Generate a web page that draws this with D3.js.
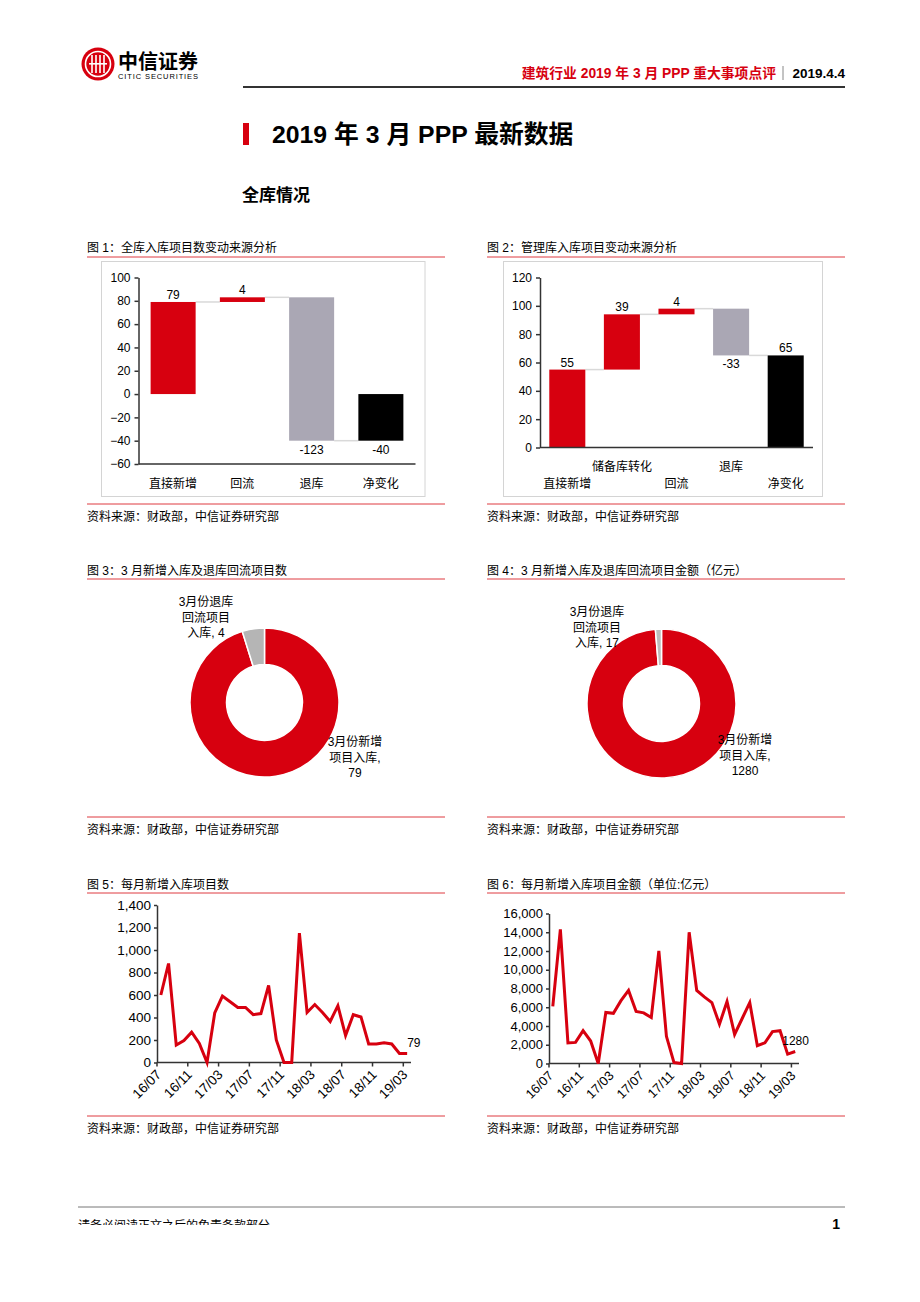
<!DOCTYPE html>
<meta charset="utf-8">
<style>
body { margin: 0; background: #fff; }
svg text { font-family: "Liberation Sans", "Noto Sans CJK SC", sans-serif; fill: #000; }
.axis path, .axis line { stroke: #333; stroke-width: 1.5px; }
.axis text { font-family: "Liberation Sans", "Noto Sans CJK SC", sans-serif; fill: #000; }
</style>
<body>
<script src="https://d3js.org/d3.v7.min.js"></script>
<script>

// ---- data ----
var wf1Cats = ["直接新增", "回流", "退库", "净变化"];
var wf1Vals = [79, 4, -123, -40];

var wf2Cats = ["直接新增", "储备库转化", "回流", "退库", "净变化"];
var wf2Vals = [55, 39, 4, -33, 65];

var pie3Labels = [["3月份新增", "项目入库,", "79"], ["3月份退库", "回流项目", "入库, 4"]];
var pie3Vals = [79, 4];
var pie4Labels = [["3月份新增", "项目入库,", "1280"], ["3月份退库", "回流项目", "入库, 17"]];
var pie4Vals = [1280, 17];

var months = ["16/07", "16/08", "16/09", "16/10", "16/11", "16/12",
  "17/01", "17/02", "17/03", "17/04", "17/05", "17/06", "17/07", "17/08", "17/09", "17/10", "17/11", "17/12",
  "18/01", "18/02", "18/03", "18/04", "18/05", "18/06", "18/07", "18/08", "18/09", "18/10", "18/11", "18/12",
  "19/01", "19/02", "19/03"];
var newCount = [600, 880, 155, 195, 270, 170, 0, 440, 590, 540, 490, 490, 425, 435, 685, 200, 0, 0,
  1150, 445, 515, 445, 365, 505, 240, 425, 405, 165, 165, 175, 165, 80, 79];
var newAmount = [6100, 14300, 2200, 2250, 3500, 2400, 0, 5450, 5350, 6700, 7800, 5550, 5400, 4900, 12000, 2900, 100, 0,
  14000, 7800, 7100, 6500, 4200, 6600, 3100, 4800, 6500, 1900, 2200, 3400, 3500, 1000, 1280];

var RED = "#d7000f", GREY = "#aaa7b4", LINE_RED = "#de3b40";

var svg = d3.select("body").append("svg")
    .attr("width", 920)
    .attr("height", 1302);

// ---- page header ----
var logo = svg.append("g");
logo.append("circle").attr("cx", 98).attr("cy", 64).attr("r", 16.5).attr("fill", RED);
logo.append("circle").attr("cx", 98).attr("cy", 64).attr("r", 12.5)
    .attr("fill", "none").attr("stroke", "#fff").attr("stroke-width", 1.6);
[-6, -2, 2, 6].forEach(function(dx) {
  logo.append("rect").attr("x", 98 + dx - 0.8).attr("y", 55).attr("width", 1.6).attr("height", 18).attr("fill", "#fff");
});
logo.append("rect").attr("x", 89).attr("y", 63).attr("width", 18).attr("height", 1.6).attr("fill", "#fff");
svg.append("text").attr("x", 118).attr("y", 69).style("font-size", "20px").style("font-weight", "bold")
    .text("中信证券");
svg.append("text").attr("x", 118).attr("y", 79).style("font-size", "7.5px")
    .attr("textLength", 80).text("CITIC SECURITIES");

svg.append("text").attr("x", 776).attr("y", 78).attr("text-anchor", "end")
    .style("font-size", "13.8px").style("font-weight", "bold").style("fill", RED)
    .text("建筑行业 2019 年 3 月 PPP 重大事项点评");
svg.append("line").attr("x1", 783).attr("x2", 783).attr("y1", 66).attr("y2", 80).attr("stroke", "#888");
svg.append("text").attr("x", 845).attr("y", 78).attr("text-anchor", "end")
    .style("font-size", "13.5px").style("font-weight", "bold").text("2019.4.4");
svg.append("line").attr("x1", 243).attr("x2", 845).attr("y1", 87).attr("y2", 87)
    .attr("stroke", "#333").attr("stroke-width", 2);

// section heading
svg.append("rect").attr("x", 243).attr("y", 123).attr("width", 6).attr("height", 22).attr("fill", RED);
svg.append("text").attr("x", 272).attr("y", 143).style("font-size", "24.8px").style("font-weight", "bold")
    .text("2019 年 3 月 PPP 最新数据");
svg.append("text").attr("x", 242).attr("y", 201).style("font-size", "17px").style("font-weight", "bold")
    .text("全库情况");

// chart frames: title, red rules, source
function panel(x0, x1, yTitle, yLine, yBottom, title) {
  svg.append("text").attr("x", x0).attr("y", yTitle).style("font-size", "12px").text(title);
  svg.append("line").attr("x1", x0).attr("x2", x1).attr("y1", yLine).attr("y2", yLine)
      .attr("stroke", LINE_RED).attr("stroke-width", 1);
  svg.append("line").attr("x1", x0).attr("x2", x1).attr("y1", yBottom).attr("y2", yBottom)
      .attr("stroke", LINE_RED).attr("stroke-width", 1);
  svg.append("text").attr("x", x0).attr("y", yBottom + 17).style("font-size", "12px")
      .text("资料来源：财政部，中信证券研究部");
}
panel(87, 445, 252, 257, 504, "图 1：全库入库项目数变动来源分析");
panel(487, 845, 252, 257, 504, "图 2：管理库入库项目变动来源分析");
panel(87, 445, 575, 579, 817, "图 3：3 月新增入库及退库回流项目数");
panel(487, 845, 575, 579, 817, "图 4：3 月新增入库及退库回流项目金额（亿元）");
panel(87, 445, 889, 893, 1116, "图 5：每月新增入库项目数");
panel(487, 845, 889, 893, 1116, "图 6：每月新增入库项目金额（单位:亿元）");

// ---- waterfall charts ----
function waterfall(o) {
  var g = svg.append("g");
  g.append("rect").attr("x", o.frame[0]).attr("y", o.frame[1])
      .attr("width", o.frame[2] - o.frame[0]).attr("height", o.frame[3] - o.frame[1])
      .attr("fill", "none").attr("stroke", "#d4d4d4");

  var x = d3.scaleBand().domain(o.cats).range(o.xRange)
      .paddingInner(o.pad).paddingOuter(o.pad / 2);
  var y = d3.scaleLinear().domain(o.yDomain).range(o.yRange);

  var run = 0, n = o.vals.length;
  var bars = o.vals.map(function(v, i) {
    if (i === n - 1) return {cat: o.cats[i], v: v, lo: Math.min(0, v), hi: Math.max(0, v), end: v, color: "#000"};
    var s = run; run += v;
    return {cat: o.cats[i], v: v, lo: Math.min(s, run), hi: Math.max(s, run), end: run, color: v >= 0 ? RED : GREY};
  });

  // connectors
  bars.slice(0, n - 1).forEach(function(b, i) {
    g.append("line")
        .attr("x1", x(b.cat) + x.bandwidth()).attr("x2", x(bars[i + 1].cat))
        .attr("y1", y(b.end)).attr("y2", y(b.end))
        .attr("stroke", "#d9d9d9").attr("stroke-width", 1.5);
  });

  g.selectAll(".bar").data(bars).enter().append("rect")
      .attr("x", function(d) { return x(d.cat); })
      .attr("y", function(d) { return y(d.hi); })
      .attr("width", x.bandwidth())
      .attr("height", function(d) { return Math.max(1, y(d.lo) - y(d.hi)); })
      .attr("fill", function(d) { return d.color; });

  g.selectAll(".vlab").data(bars).enter().append("text")
      .attr("x", function(d) { return x(d.cat) + x.bandwidth() / 2; })
      .attr("y", function(d) { return d.v >= 0 ? y(d.hi) - 3 : y(d.lo) + 13; })
      .attr("text-anchor", "middle").style("font-size", "12px")
      .text(function(d) { return d.v; });

  var ya = g.append("g").attr("class", "axis")
      .attr("transform", "translate(" + o.xRange[0] + ",0)")
      .call(d3.axisLeft(y).tickValues(d3.range(o.yDomain[0], o.yDomain[1] + 1, o.step))
          .tickSize(4).tickSizeOuter(0).tickPadding(4));
  ya.selectAll("text").style("font-size", "12px");

  g.append("line").attr("x1", o.xRange[0]).attr("x2", o.xRange[1])
      .attr("y1", y(o.yDomain[0])).attr("y2", y(o.yDomain[0]))
      .attr("stroke", "#333").attr("stroke-width", 1.5);

  g.selectAll(".clab").data(o.cats).enter().append("text")
      .attr("x", function(d) { return x(d) + x.bandwidth() / 2; })
      .attr("y", function(d, i) { return o.catY[i % o.catY.length]; })
      .attr("text-anchor", "middle").style("font-size", "12px")
      .text(function(d) { return d; });
}

waterfall({cats: wf1Cats, vals: wf1Vals, frame: [101.5, 261.5, 425, 496.5],
  xRange: [138.5, 415.5], yDomain: [-60, 100], yRange: [464, 277.5], step: 20, pad: 0.35, catY: [488]});
waterfall({cats: wf2Cats, vals: wf2Vals, frame: [503.5, 261.5, 822.5, 496.5],
  xRange: [540, 813], yDomain: [0, 120], yRange: [447.5, 277.5], step: 20, pad: 0.34, catY: [488, 471]});

// ---- donut charts ----
function donut(o) {
  var g = svg.append("g").attr("transform", "translate(" + o.cx + "," + o.cy + ")");
  var pie = d3.pie().sort(null).value(function(d) { return d; });
  var arc = d3.arc().innerRadius(o.ri).outerRadius(o.ro);
  g.selectAll("path").data(pie(o.vals)).enter().append("path")
      .attr("d", arc)
      .attr("fill", function(d, i) { return o.colors[i]; })
      .attr("stroke", "#fff").attr("stroke-width", 1.5);
  o.labels.forEach(function(lines, i) {
    var t = svg.append("text").attr("text-anchor", "middle").style("font-size", "12px");
    lines.forEach(function(s, j) {
      t.append("tspan").attr("x", o.labPos[i][0]).attr("y", o.labPos[i][1] + j * 15.5).text(s);
    });
  });
}
donut({cx: 264.5, cy: 702.5, ro: 74.5, ri: 38, vals: pie3Vals, colors: [RED, "#b5b5b5"],
  labels: pie3Labels, labPos: [[355, 746], [206, 606]]});
donut({cx: 661.5, cy: 703.5, ro: 74.5, ri: 38, vals: pie4Vals, colors: [RED, "#bdbdbd"],
  labels: pie4Labels, labPos: [[745, 744], [597, 616]]});

// ---- monthly line charts ----
function lineChart(o) {
  var g = svg.append("g");
  var x = d3.scaleBand().domain(months).range(o.xRange);
  var y = d3.scaleLinear().domain(o.yDomain).range(o.yRange);
  var y0 = y(0);

  var ya = g.append("g").attr("class", "axis")
      .attr("transform", "translate(" + o.xRange[0] + ",0)")
      .call(d3.axisLeft(y).tickValues(d3.range(o.yDomain[0], o.yDomain[1] + 1, o.step))
          .tickFormat(d3.format(",")).tickSize(3).tickSizeOuter(0).tickPadding(3));
  ya.selectAll("text").style("font-size", o.fs + "px");

  g.append("line").attr("x1", o.xRange[0]).attr("x2", o.xRange[1]).attr("y1", y0).attr("y2", y0)
      .attr("stroke", "#333").attr("stroke-width", 1.5);
  var tickMonths = months.filter(function(m, i) { return i % 4 === 0; });
  g.selectAll(".xt").data(tickMonths).enter().append("line")
      .attr("x1", function(d) { return x(d); }).attr("x2", function(d) { return x(d); })
      .attr("y1", y0).attr("y2", y0 + 4)
      .attr("stroke", "#333").attr("stroke-width", 1.5);
  g.selectAll(".xl").data(tickMonths).enter().append("text")
      .attr("text-anchor", "end")
      .attr("transform", function(d) { return "translate(" + (x(d) + 5) + "," + (y0 + 13) + ")rotate(-45)"; })
      .style("font-size", o.fs + "px")
      .text(function(d) { return d; });

  var line = d3.line()
      .x(function(d, i) { return x(months[i]) + x.bandwidth() / 2; })
      .y(function(d) { return y(d); });
  g.append("path").datum(o.vals).attr("d", line)
      .attr("fill", "none").attr("stroke", RED).attr("stroke-width", 3);

  var last = o.vals.length - 1;
  g.append("text")
      .attr("x", x(months[last]) + x.bandwidth() / 2 + o.labDx)
      .attr("y", y(o.vals[last]) - 7)
      .style("font-size", "12px")
      .text(o.vals[last]);
}
lineChart({vals: newCount, xRange: [157, 411], yDomain: [0, 1400], yRange: [1062.5, 905], step: 200, fs: 13.5, labDx: 0});
lineChart({vals: newAmount, xRange: [549, 799], yDomain: [0, 16000], yRange: [1063.5, 913.5], step: 2000, fs: 13, labDx: -13});

// ---- footer ----
svg.append("line").attr("x1", 78).attr("x2", 845).attr("y1", 1207).attr("y2", 1207)
    .attr("stroke", "#777").attr("stroke-width", 1);
svg.append("clipPath").attr("id", "footclip").append("rect")
    .attr("x", 70).attr("y", 1200).attr("width", 700).attr("height", 25);
svg.append("text").attr("x", 78).attr("y", 1230).attr("clip-path", "url(#footclip)")
    .style("font-size", "12px").text("请务必阅读正文之后的免责条款部分");
svg.append("text").attr("x", 840).attr("y", 1229).attr("text-anchor", "end")
    .style("font-size", "14px").style("font-weight", "bold").text("1");

</script>
</body>
